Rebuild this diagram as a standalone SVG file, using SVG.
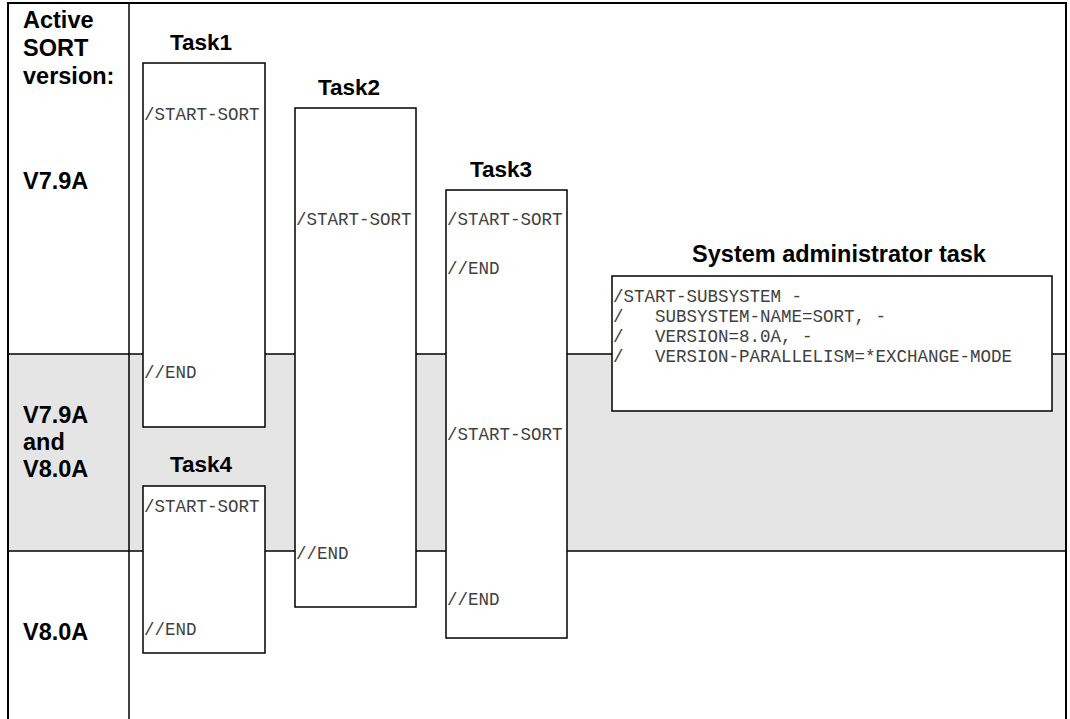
<svg xmlns="http://www.w3.org/2000/svg" width="1070" height="719" viewBox="0 0 1070 719">
<style>
.frame{stroke:#000;stroke-width:2;fill:none}
.rule{stroke:#000;stroke-width:1.5;fill:none}
.box{fill:#fff;stroke:#000;stroke-width:1.5}
.hd{font-family:"Liberation Sans",Arial,sans-serif;font-weight:bold;font-size:22.5px;fill:#000}
.lbl{font-size:23.5px}
.code{font-family:"Liberation Mono","Courier New",monospace;font-size:17.5px;fill:#404040}
</style>
<rect x="0" y="0" width="1070" height="719" fill="#fff"/>
<g id="bands">
<rect x="8" y="354" width="1058" height="197" fill="#e5e5e5"/>
<line class="rule" x1="8" y1="354" x2="1066" y2="354"/>
<line class="rule" x1="8" y1="551" x2="1066" y2="551"/>
<line class="rule" x1="129" y1="3" x2="129" y2="719"/>
<path class="frame" d="M8,719 V3 H1066 V719"/>
</g>
<g id="version-labels">
<text class="hd lbl" x="23" y="28">Active</text>
<text class="hd lbl" x="23" y="56">SORT</text>
<text class="hd lbl" x="23" y="84">version:</text>
<text class="hd lbl" x="23" y="189">V7.9A</text>
<text class="hd lbl" x="23" y="423">V7.9A</text>
<text class="hd lbl" x="23" y="450">and</text>
<text class="hd lbl" x="23" y="477">V8.0A</text>
<text class="hd lbl" x="23" y="640">V8.0A</text>
</g>
<g id="task1">
<text class="hd" x="170" y="50">Task1</text>
<rect class="box" x="143" y="63" width="122" height="364"/>
<text class="code" x="144" y="120">/START-SORT</text>
<text class="code" x="144" y="378">//END</text>
</g>
<g id="task2">
<text class="hd" x="318" y="95">Task2</text>
<rect class="box" x="295" y="108" width="121" height="499"/>
<text class="code" x="296" y="225">/START-SORT</text>
<text class="code" x="296" y="559">//END</text>
</g>
<g id="task3">
<text class="hd" x="470" y="177">Task3</text>
<rect class="box" x="446" y="190" width="121" height="448"/>
<text class="code" x="447" y="225">/START-SORT</text>
<text class="code" x="447" y="274">//END</text>
<text class="code" x="447" y="440">/START-SORT</text>
<text class="code" x="447" y="605">//END</text>
</g>
<g id="task4">
<text class="hd" x="170" y="472">Task4</text>
<rect class="box" x="143" y="486" width="122" height="167"/>
<text class="code" x="144" y="512">/START-SORT</text>
<text class="code" x="144" y="635">//END</text>
</g>
<g id="sysadmin">
<text class="hd lbl" x="839" y="262" text-anchor="middle">System administrator task</text>
<rect class="box" x="612" y="276" width="440" height="135"/>
<text class="code" x="613" y="302" xml:space="preserve">/START-SUBSYSTEM -</text>
<text class="code" x="613" y="322" xml:space="preserve">/   SUBSYSTEM-NAME=SORT, -</text>
<text class="code" x="613" y="342" xml:space="preserve">/   VERSION=8.0A, -</text>
<text class="code" x="613" y="362" xml:space="preserve">/   VERSION-PARALLELISM=*EXCHANGE-MODE</text>
</g>
<g id="connectors"></g>
</svg>
